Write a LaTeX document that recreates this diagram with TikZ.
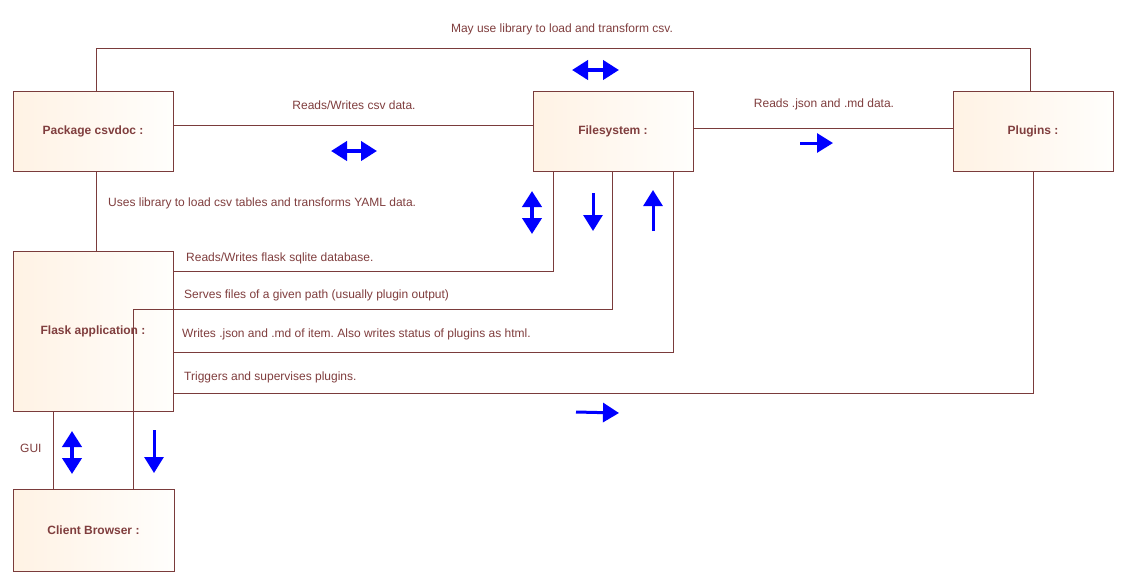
\documentclass[tikz,border=0pt]{standalone}
\usepackage{fontspec}
\setmainfont{Liberation Sans}
\usetikzlibrary{arrows.meta}
\definecolor{brd}{RGB}{122,59,59}
\definecolor{txt}{RGB}{128,62,62}
\definecolor{fillL}{RGB}{255,242,228}
\definecolor{fillR}{RGB}{255,254,252}
\definecolor{arr}{RGB}{0,0,255}
\tikzset{
  box/.style={draw=brd, line width=0.9pt, shade, left color=fillL, right color=fillR,
    minimum width=160, minimum height=80, inner sep=0pt, text=txt, font=\fontsize{12}{14}\selectfont\bfseries},
  conn/.style={draw=brd, line width=0.9pt},
  lbl/.style={text=txt, font=\fontsize{12}{14}\selectfont, inner sep=0pt},
  barr/.style={draw=arr, line width=3pt, -{Triangle[width=19pt,length=16pt]}},
  darr/.style={draw=arr, line width=4pt, {Triangle[width=19pt,length=16pt]}-{Triangle[width=19pt,length=16pt]}},
}
\begin{document}
\frenchspacing
\begin{tikzpicture}[x=1pt,y=-1pt]
\useasboundingbox (0,0) rectangle (1124,582);
\fill[white] (0,0) rectangle (1124,582);
% boxes
\node[box] (pkg) at (93,131) {Package csvdoc :};
\node[box] (fs) at (613,131) {Filesystem :};
\node[box] (plg) at (1033,131) {Plugins :};
\node[box, minimum height=160] (flask) at (93,331) {Flask application :};
\node[box, minimum width=161, minimum height=82] (cb) at (93.5,530) {Client Browser :};
% connectors
\draw[conn] ([xshift=3]pkg.north) -- ++(0,-42) -| ([xshift=-3]plg.north);
\draw[conn] ([yshift=6]pkg.east) -- ([yshift=6]fs.west);
\draw[conn] ([yshift=3]fs.east) -- ([yshift=3]plg.west);
\draw[conn] ([xshift=3]pkg.south) -- ([xshift=3]flask.north);
\draw[conn] ([yshift=60]flask.east) -| ([xshift=-60]fs.south);
\draw[conn] ([xshift=-1]fs.south) -- ++(0,138) -| ([xshift=40]cb.north);
\draw[conn] ([yshift=-21]flask.east) -| ([xshift=60]fs.south);
\draw[conn] ([yshift=-62]flask.east) -| (plg.south);
\draw[conn] ([xshift=-40]flask.south) -- ([xshift=-40]flask.south |- cb.north);
% labels
\node[lbl] (l1) at (562,29) {May use library to load and transform csv.};
\node[lbl] (l2) at (354,105) {Reads/Writes csv data.};
\node[lbl] (l3) at (824,104) {Reads .json and .md data.};
\node[lbl, anchor=west] (l4) at (108,203) {Uses library to load csv tables and transforms YAML data.};
\node[lbl, anchor=west] (l5) at (186,258) {Reads/Writes flask sqlite database.};
\node[lbl, anchor=west] (l6) at (184,295) {Serves files of a given path (usually plugin output)};
\node[lbl, anchor=west] (l7) at (182,334) {Writes .json and .md of item. Also writes status of plugins as html.};
\node[lbl, anchor=west] (l8) at (184,377) {Triggers and supervises plugins.};
\node[lbl, anchor=west] (l9) at (20,448) {GUI};
% blue arrows
\draw[darr] (572,70) -- (619,70);
\draw[darr] (331,151) -- (377,151);
\draw[barr] (800,143) -- (833,143);
\draw[darr] (532,191) -- (532,234);
\draw[barr] (593,193) -- (593,231);
\draw[barr] (653,231) -- (653,190);
\draw[barr] (576,412) -- (619,413);
\draw[darr] (72,431) -- (72,474);
\draw[barr] (154,430) -- (154,473);
\end{tikzpicture}
\end{document}
